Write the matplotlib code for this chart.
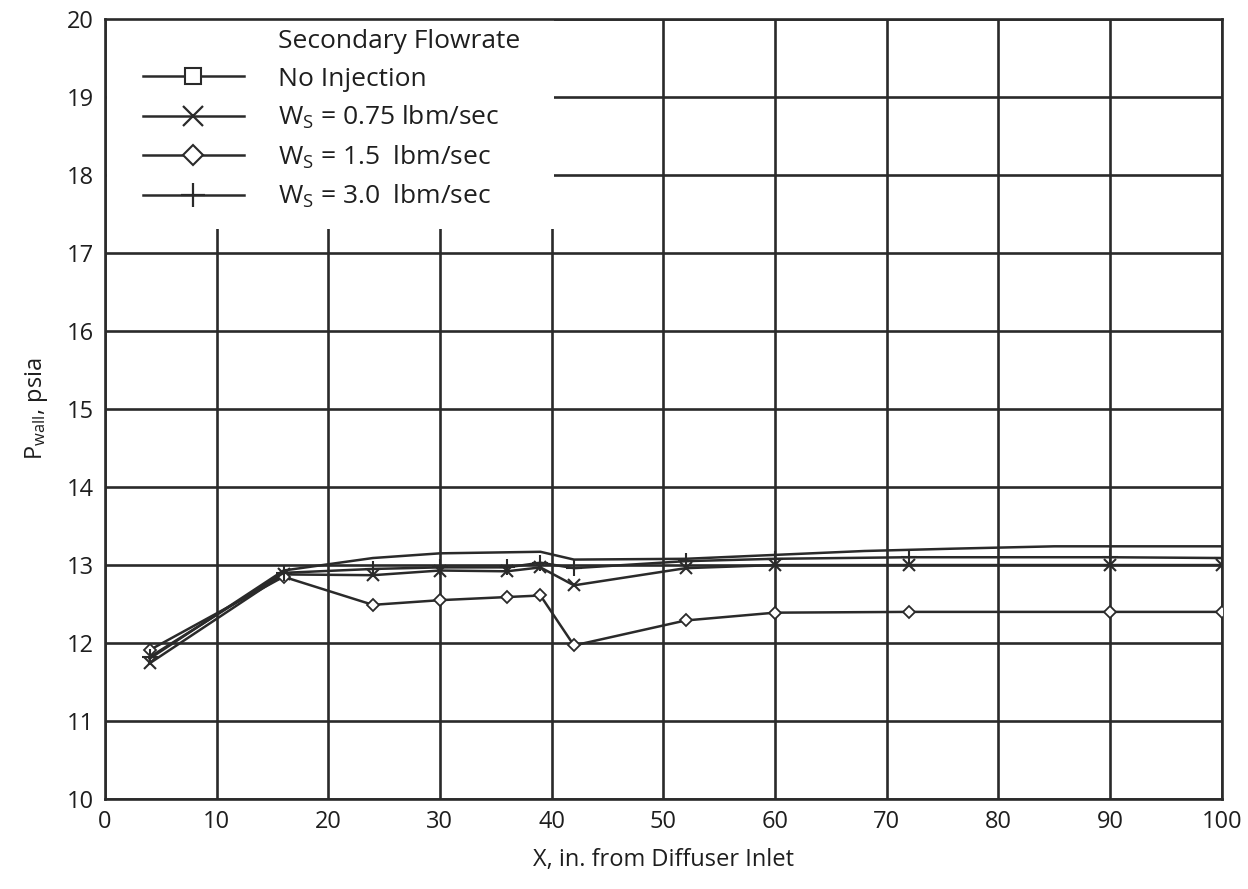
import matplotlib
matplotlib.use("Agg")
import matplotlib.pyplot as plt
from matplotlib.patches import Rectangle
from matplotlib.lines import Line2D

plt.rcParams['font.family'] = ['Open Sans', 'DejaVu Sans']
plt.rcParams['mathtext.default'] = 'regular'

# station positions, in. from diffuser inlet
x_pts = [4, 16, 24, 30, 36, 39, 42, 52, 60, 72, 90, 100]

# no injection (no markers visible in the original trace)
x_none = [4, 16, 24, 30, 39, 42, 52, 60, 68, 76, 85, 100]
p_none = [11.80, 12.93, 13.09, 13.15, 13.17, 13.07, 13.08, 13.13, 13.18, 13.21, 13.24, 13.24]

p_075 = [11.74, 12.88, 12.87, 12.93, 12.92, 12.97, 12.74, 12.96, 13.00, 13.00, 13.00, 13.00]
p_15 = [11.91, 12.85, 12.49, 12.55, 12.59, 12.61, 11.97, 12.29, 12.39, 12.40, 12.40, 12.40]
p_30 = [11.82, 12.90, 12.95, 12.97, 12.97, 13.03, 12.96, 13.05, 13.08, 13.10, 13.10, 13.09]

labels = ['No Injection',
          r'W$_S$ = 0.75 lbm/sec',
          r'W$_S$ = 1.5  lbm/sec',
          r'W$_S$ = 3.0  lbm/sec']

ink = '#2a2a2a'
txt = '#1e1e1e'

fig = plt.figure(figsize=(12.48, 8.89), dpi=100)
ax = fig.add_axes([0.084, 0.101, 0.895, 0.878])

ax.plot(x_none, p_none, color=ink, lw=1.8, zorder=3)
ax.plot(x_pts, p_075, color=ink, lw=1.8, marker='x', ms=9, mew=1.5, zorder=3)
ax.plot(x_pts, p_15, color=ink, lw=1.8, marker='D', ms=6, mfc='white', mew=1.3, zorder=3)
ax.plot(x_pts, p_30, color=ink, lw=1.8, marker='+', ms=11, mew=1.5, zorder=3)

ax.set_xlim(0, 100)
ax.set_ylim(10, 20)
ax.set_xticks(range(0, 101, 10))
ax.set_yticks(range(10, 21))
ax.grid(True, color=ink, lw=1.9)
ax.set_axisbelow(True)
for s in ax.spines.values():
    s.set_color(ink)
    s.set_linewidth(1.9)
ax.tick_params(length=0, labelsize=17, colors=txt, pad=8)

ax.set_xlabel('X, in. from Diffuser Inlet', fontsize=17, color=txt, labelpad=10)
ax.set_ylabel(r'P$_{wall}$, psia', fontsize=17, color=txt, labelpad=12)

# white block behind the legend hides the grid there
ax.add_patch(Rectangle((0.002, 0.73), 0.40, 0.268, transform=ax.transAxes,
                       facecolor='white', edgecolor='none', zorder=2))

handles = [Line2D([], [], color='none'),
           Line2D([], [], color=ink, lw=1.8, marker='s', ms=11, mfc='white', mew=1.5),
           Line2D([], [], color=ink, lw=1.8, marker='x', ms=14, mew=1.6),
           Line2D([], [], color=ink, lw=1.8, marker='D', ms=10, mfc='white', mew=1.5),
           Line2D([], [], color=ink, lw=1.8, marker='+', ms=17, mew=1.6)]
leg = ax.legend(handles, ['Secondary Flowrate'] + labels, loc='upper left',
                bbox_to_anchor=(0.025, 1.0), borderaxespad=0.0, frameon=False,
                fontsize=19, handlelength=3.8, handletextpad=1.3,
                labelspacing=0.47, numpoints=1)
leg.set_zorder(4)
for t in leg.get_texts():
    t.set_color(txt)

fig.savefig('out.png', dpi=100)
